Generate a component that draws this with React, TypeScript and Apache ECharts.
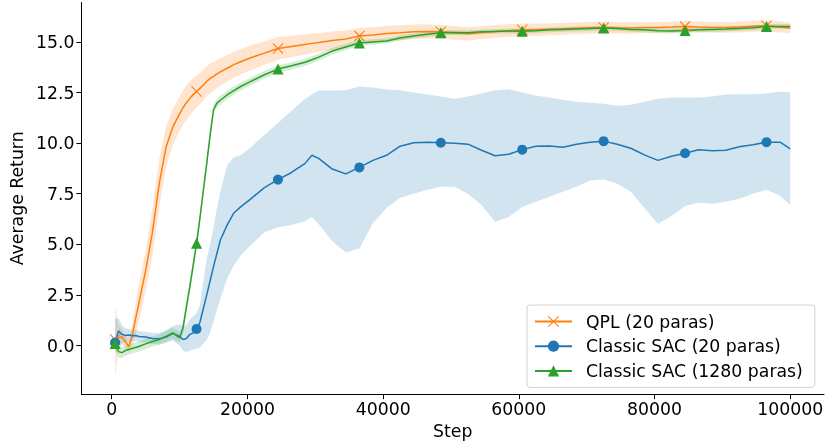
import React, { useEffect, useRef } from "react";
import * as echarts from "echarts";

const steps = [500, 1000, 1500, 2000, 2500, 3000, 3500, 4000, 5000, 6000, 7000, 8000, 9000, 10000, 10500, 11000, 11500, 12000, 12500, 13000, 14000, 14500, 15000, 15500, 16000, 17000, 18000, 19000, 20500, 22500, 24500, 26500, 28500, 29500, 30500, 32500, 34500, 36500, 38500, 40500, 42500, 44500, 46500, 48500, 50500, 52500, 54500, 56500, 58500, 60500, 62500, 64500, 66500, 68500, 70500, 72500, 74500, 76500, 78500, 80500, 82500, 84500, 86500, 88500, 90500, 92500, 94500, 96500, 98500, 100000];

const qplMean = [0.3, 0.4, 0.42, 0.2, -0.05, 0.45, 1.3, 2.1, 3.7, 5.6, 8.0, 9.8, 10.8, 11.45, 11.75, 12.0, 12.2, 12.4, 12.55, 12.7, 13.05, 13.2, 13.3, 13.42, 13.52, 13.7, 13.88, 14.02, 14.22, 14.45, 14.68, 14.78, 14.88, 14.93, 14.97, 15.07, 15.15, 15.3, 15.35, 15.42, 15.45, 15.5, 15.52, 15.5, 15.45, 15.4, 15.47, 15.52, 15.56, 15.6, 15.6, 15.63, 15.65, 15.68, 15.7, 15.72, 15.7, 15.69, 15.71, 15.72, 15.74, 15.77, 15.74, 15.72, 15.72, 15.74, 15.78, 15.8, 15.74, 15.69];
const qplLower = [-1.55, -0.2, 0.05, -0.1, -0.35, -0.1, 0.5, 1.2, 2.7, 4.4, 6.8, 8.8, 9.9, 10.6, 10.9, 11.15, 11.38, 11.58, 11.75, 11.92, 12.3, 12.47, 12.58, 12.72, 12.84, 13.04, 13.24, 13.4, 13.6, 13.87, 14.12, 14.25, 14.38, 14.44, 14.5, 14.62, 14.73, 14.9, 14.97, 15.04, 15.08, 15.14, 15.17, 15.16, 15.11, 15.07, 15.15, 15.2, 15.25, 15.29, 15.3, 15.33, 15.36, 15.39, 15.41, 15.43, 15.42, 15.41, 15.44, 15.45, 15.47, 15.5, 15.47, 15.45, 15.45, 15.47, 15.51, 15.53, 15.47, 15.43];
const qplUpper = [1.9, 1.0, 0.8, 0.5, 0.25, 1.0, 2.1, 3.0, 4.7, 6.8, 9.2, 10.8, 11.7, 12.3, 12.6, 12.85, 13.02, 13.22, 13.35, 13.48, 13.8, 13.93, 14.02, 14.12, 14.2, 14.36, 14.52, 14.64, 14.84, 15.03, 15.24, 15.31, 15.38, 15.42, 15.44, 15.52, 15.57, 15.7, 15.73, 15.8, 15.82, 15.86, 15.87, 15.84, 15.79, 15.73, 15.79, 15.84, 15.87, 15.91, 15.9, 15.93, 15.94, 15.97, 15.99, 16.01, 15.98, 15.97, 15.98, 15.99, 16.01, 16.04, 16.01, 15.99, 15.99, 16.01, 16.05, 16.07, 16.01, 15.95];

const sac20Mean = [0.15, 0.72, 0.55, 0.5, 0.52, 0.48, 0.5, 0.45, 0.42, 0.35, 0.33, 0.42, 0.6, 0.45, 0.3, 0.35, 0.55, 0.62, 0.82, 1.15, 2.5, 3.2, 3.9, 4.55, 5.2, 5.95, 6.55, 6.85, 7.25, 7.8, 8.2, 8.55, 9.0, 9.4, 9.25, 8.72, 8.48, 8.8, 9.15, 9.4, 9.85, 10.02, 10.05, 10.02, 10.0, 9.95, 9.65, 9.38, 9.45, 9.68, 9.85, 9.86, 9.8, 9.95, 10.05, 10.1, 9.95, 9.75, 9.42, 9.15, 9.35, 9.5, 9.67, 9.62, 9.65, 9.82, 9.92, 10.05, 10.05, 9.72];
const sac20Lower = [-0.4, 0.05, 0.1, 0.15, 0.2, 0.2, 0.22, 0.18, 0.15, 0.08, 0.05, 0.12, 0.25, 0.0, -0.25, -0.33, -0.25, -0.2, -0.15, -0.1, 0.3, 0.65, 1.2, 1.75, 2.3, 3.3, 3.95, 4.45, 4.95, 5.6, 5.85, 5.95, 6.15, 6.35, 6.0, 5.15, 4.6, 4.8, 6.05, 6.8, 7.3, 7.5, 7.7, 7.85, 7.85, 7.5, 6.95, 6.1, 6.35, 6.85, 7.1, 7.35, 7.6, 7.85, 8.15, 8.2, 8.0, 7.6, 6.8, 6.0, 6.4, 6.9, 7.05, 7.0, 7.1, 7.25, 7.5, 7.7, 7.4, 6.95];
const sac20Upper = [1.3, 1.35, 1.0, 0.85, 0.82, 0.78, 0.78, 0.72, 0.68, 0.62, 0.62, 0.75, 0.95, 1.05, 0.95, 1.0, 1.3, 1.45, 1.6, 2.0, 4.3, 5.0, 5.8, 6.8, 7.6, 8.9, 9.3, 9.4, 9.8, 10.4, 11.0, 11.6, 12.2, 12.4, 12.6, 12.6, 12.62, 12.8, 12.75, 12.65, 12.62, 12.5, 12.4, 12.3, 12.2, 12.3, 12.45, 12.62, 12.66, 12.5, 12.35, 12.25, 12.15, 12.05, 12.0, 11.95, 11.85, 11.9, 12.05, 12.2, 12.25, 12.25, 12.25, 12.3, 12.4, 12.42, 12.42, 12.45, 12.55, 12.5];

const sac1280Mean = [0.1, -0.3, -0.35, -0.25, -0.2, -0.15, -0.1, -0.05, 0.08, 0.2, 0.3, 0.45, 0.62, 0.38, 0.86, 1.9, 2.9, 3.95, 5.05, 6.3, 9.0, 10.4, 11.65, 11.98, 12.12, 12.38, 12.6, 12.8, 13.05, 13.38, 13.66, 13.82, 14.0, 14.12, 14.25, 14.55, 14.75, 14.95, 15.0, 15.05, 15.2, 15.3, 15.38, 15.45, 15.47, 15.46, 15.5, 15.52, 15.54, 15.53, 15.56, 15.6, 15.62, 15.64, 15.66, 15.69, 15.66, 15.62, 15.6, 15.55, 15.54, 15.57, 15.6, 15.62, 15.64, 15.67, 15.7, 15.76, 15.77, 15.77];
const sac1280Lower = [-0.2, -0.6, -0.62, -0.5, -0.45, -0.4, -0.35, -0.3, -0.17, -0.05, 0.05, 0.2, 0.35, 0.12, 0.56, 1.6, 2.6, 3.65, 4.75, 6.0, 8.7, 10.1, 11.4, 11.76, 11.9, 12.17, 12.4, 12.6, 12.86, 13.2, 13.48, 13.64, 13.83, 13.95, 14.08, 14.38, 14.59, 14.8, 14.86, 14.92, 15.07, 15.18, 15.26, 15.33, 15.35, 15.34, 15.38, 15.4, 15.42, 15.41, 15.44, 15.48, 15.5, 15.52, 15.54, 15.57, 15.54, 15.5, 15.48, 15.43, 15.42, 15.45, 15.48, 15.5, 15.52, 15.55, 15.58, 15.64, 15.65, 15.65];
const sac1280Upper = [0.4, 0.0, -0.08, 0.0, 0.05, 0.1, 0.15, 0.2, 0.33, 0.45, 0.55, 0.7, 0.9, 0.64, 1.16, 2.2, 3.2, 4.25, 5.35, 6.6, 9.3, 10.7, 11.9, 12.2, 12.34, 12.59, 12.8, 13.0, 13.24, 13.56, 13.84, 14.0, 14.17, 14.29, 14.42, 14.72, 14.91, 15.1, 15.14, 15.18, 15.33, 15.42, 15.5, 15.57, 15.59, 15.58, 15.62, 15.64, 15.66, 15.65, 15.68, 15.72, 15.74, 15.76, 15.78, 15.81, 15.78, 15.74, 15.72, 15.67, 15.66, 15.69, 15.72, 15.74, 15.76, 15.79, 15.82, 15.88, 15.89, 15.89];

const xTicks = [0, 20000, 40000, 60000, 80000, 100000];
const yTicks = [0, 2.5, 5, 7.5, 10, 12.5, 15];
const seriesNames = ["QPL (20 paras)", "Classic SAC (20 paras)", "Classic SAC (1280 paras)"];
const markerSteps = [500, 12500, 24500, 36500, 48500, 60500, 72500, 84500, 96500];

const FONT = "DejaVu Sans";
const FS = 17.3;
const C_ORANGE = "#ff7f0e";
const C_BLUE = "#1f77b4";
const C_GREEN = "#2ca02c";
const X_PATH =
  "path://M0,0.7L0.7,0L5,4.3L9.3,0L10,0.7L5.7,5L10,9.3L9.3,10L5,5.7L0.7,10L0,9.3L4.3,5Z";

function bandSeries(id: string, lower: number[], upper: number[], color: string) {
  return {
    type: "custom",
    name: id + "_band",
    data: steps.map((s, i) => [s, lower[i], upper[i]]),
    encode: { x: 0, y: [1, 2] },
    silent: true,
    clip: true,
    renderItem: (params: any, api: any) => {
      if (params.dataIndex !== 0) return null;
      const pts: number[][] = [];
      for (let i = 0; i < steps.length; i++) pts.push(api.coord([steps[i], upper[i]]));
      for (let i = steps.length - 1; i >= 0; i--) pts.push(api.coord([steps[i], lower[i]]));
      return {
        type: "polygon",
        shape: { points: pts },
        style: { fill: color, opacity: 0.2 },
      };
    },
  };
}

function mainSeries(name: string, values: number[], color: string, symbol: string, size: number) {
  return {
    type: "line",
    name,
    data: steps.map((s, i) => [s, values[i]]),
    symbol,
    symbolSize: (v: number[]) => (markerSteps.indexOf(v[0]) >= 0 ? size : 0),
    showAllSymbol: true,
    lineStyle: { color, width: 1.5 },
    itemStyle: { color },
    silent: true,
  };
}

export default function App() {
  const ref = useRef<HTMLDivElement>(null);
  useEffect(() => {
    if (!ref.current) return;
    const chart = echarts.init(ref.current, null, { renderer: "svg" });
    const axisText = { fontFamily: FONT, fontSize: FS, color: "#000" };
    chart.setOption({
      animation: false,
      grid: { left: 78, right: 3, top: 2.5, bottom: 46.7, containLabel: false },
      xAxis: {
        type: "value",
        min: -4475,
        max: 104975,
        name: "Step",
        nameLocation: "middle",
        nameGap: 25,
        nameTextStyle: { ...axisText, verticalAlign: "top" },
        axisLine: { show: true, onZero: false, lineStyle: { color: "#000", width: 1 } },
        axisTick: { show: true, length: 5, customValues: xTicks, lineStyle: { color: "#000", width: 1 } },
        axisLabel: { ...axisText, margin: 6, customValues: xTicks, formatter: (v: number) => String(v) },
        splitLine: { show: false },
      },
      yAxis: {
        type: "value",
        min: -2.4,
        max: 16.95,
        name: "Average Return",
        nameLocation: "middle",
        nameGap: 43,
        nameTextStyle: axisText,
        axisLine: { show: true, onZero: false, lineStyle: { color: "#000", width: 1 } },
        axisTick: { show: true, length: 5, customValues: yTicks, lineStyle: { color: "#000", width: 1 } },
        axisLabel: { ...axisText, margin: 7, customValues: yTicks, formatter: (v: number) => v.toFixed(1) },
        splitLine: { show: false },
      },
      legend: {
        data: seriesNames,
        orient: "vertical",
        left: 527,
        top: 305,
        itemWidth: 37,
        itemHeight: 14,
        itemGap: 7.7,
        padding: [8, 12, 8, 7],
        borderColor: "#d0d0d0",
        borderWidth: 1,
        borderRadius: 3,
        backgroundColor: "rgba(255,255,255,0.8)",
        textStyle: { ...axisText, padding: [0, 0, 0, 9] },
      },
      series: [
        bandSeries("qpl", qplLower, qplUpper, C_ORANGE),
        mainSeries(seriesNames[0], qplMean, C_ORANGE, X_PATH, 11),
        bandSeries("s20", sac20Lower, sac20Upper, C_BLUE),
        mainSeries(seriesNames[1], sac20Mean, C_BLUE, "circle", 10),
        bandSeries("s1280", sac1280Lower, sac1280Upper, C_GREEN),
        mainSeries(seriesNames[2], sac1280Mean, C_GREEN, "triangle", 11),
      ],
    });
    return () => chart.dispose();
  }, []);
  return (
    <div
      ref={ref}
      style={{ position: "fixed", left: 0, top: 0, width: 827, height: 444 }}
    />
  );
}
